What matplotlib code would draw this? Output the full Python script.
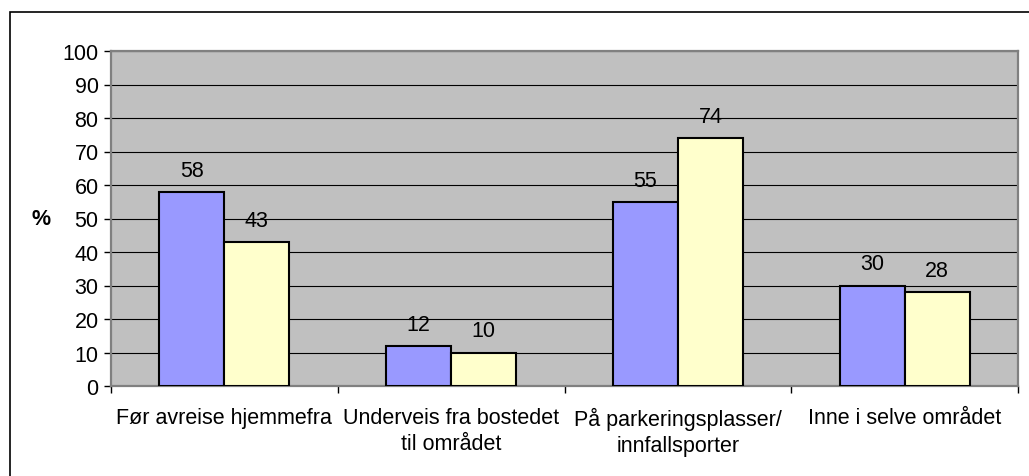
import numpy as np
import matplotlib.pyplot as plt
from matplotlib.patches import Rectangle

plt.rcParams['font.family'] = ['Liberation Sans', 'DejaVu Sans']

categories = ['Før avreise hjemmefra', 'Underveis fra bostedet\ntil området',
              'På parkeringsplasser/\ninnfallsporter', 'Inne i selve området']
series_a = [58, 12, 55, 30]   # blue bars
series_b = [43, 10, 74, 28]   # yellow bars

fs = 15.5

fig = plt.figure(figsize=(10.29, 4.77), dpi=100)
ax = fig.add_axes([111/1029, 1 - 387/477, (1018-111)/1029, (387-52)/477])

# outer chart border (left and top visible, runs off the image)
fig.patches.append(Rectangle((10/1029, -0.1), 1.2, 1.1 - 13/477,
                             transform=fig.transFigure, fill=False,
                             edgecolor='black', linewidth=1.2, zorder=0))

x = np.arange(len(categories))
w = 0.287
ax.set_facecolor('#C0C0C0')
ax.set_axisbelow(True)
ax.yaxis.grid(True, color='black', linewidth=0.8)

b1 = ax.bar(x - w/2, series_a, w, color='#9999FF', edgecolor='black', linewidth=1.5, zorder=3)
b2 = ax.bar(x + w/2, series_b, w, color='#FFFFCC', edgecolor='black', linewidth=1.5, zorder=3)

for bars in (b1, b2):
    for r in bars:
        ax.annotate('%d' % r.get_height(), (r.get_x() + r.get_width()/2, r.get_height()),
                    xytext=(0, 8), textcoords='offset points',
                    ha='center', va='bottom', fontsize=fs)

ax.set_xlim(-0.5, len(categories) - 0.5)
ax.set_ylim(0, 100)
ax.set_yticks(np.arange(0, 101, 10))
ax.set_xticks(np.arange(-0.5, len(categories)), minor=False)
ax.set_xticklabels([])
ax.set_xticks(x, minor=True)
ax.set_xticklabels(categories, minor=True, fontsize=fs, linespacing=1.3)
ax.tick_params(axis='x', which='minor', length=0, pad=15)
ax.tick_params(axis='x', which='major', length=5, width=1, color='black')
ax.tick_params(axis='y', length=5, width=1, labelsize=fs, color='black', pad=4)

for s in ax.spines.values():
    s.set_color('#808080')
    s.set_linewidth(1.6)

ax.set_ylabel('%', rotation=0, fontsize=fs, fontweight='bold', labelpad=15, va='center')

fig.savefig('out.png', dpi=100)
